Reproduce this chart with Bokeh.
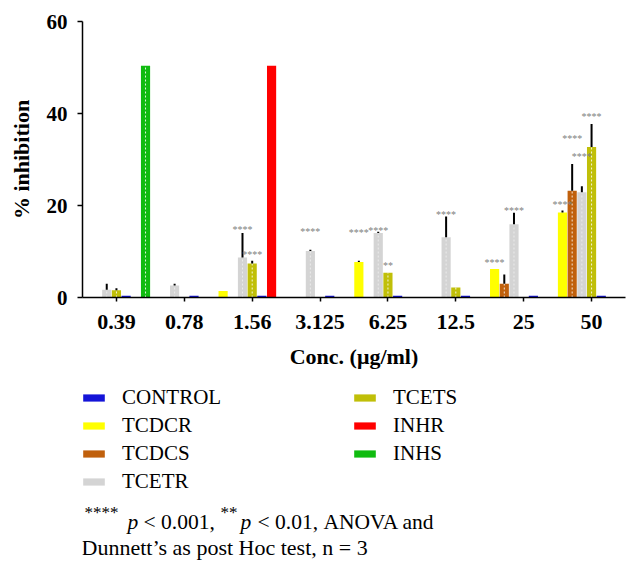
from bokeh.plotting import figure
from bokeh.models import (ColumnDataSource, FactorRange, Range1d, Legend, LegendItem,
                          Label, FixedTicker)
from bokeh.layouts import column
from bokeh.transform import dodge
from bokeh.embed import file_html
from bokeh.resources import INLINE

# ---------------- data ----------------
categories = ["0.39", "0.78", "1.56", "3.125", "6.25", "12.5", "25", "50"]

control     = [0.4, 0.4, 0.4, 0.4, 0.4, 0.4, 0.4, 0.4]
control_err = [0, 0, 0, 0, 0, 0, 0, 0]
tcdcr       = [0, 0, 1.4, 0, 7.7, 0, 6.2, 18.5]
tcdcr_err   = [0, 0, 0, 0, 0.3, 0, 0, 0.4]
tcdcs       = [0, 0, 0, 0, 0, 0, 3.0, 23.2]
tcdcs_err   = [0, 0, 0, 0, 0, 0, 2.0, 5.8]
tcetr       = [1.7, 2.6, 8.7, 10.1, 14.0, 13.1, 15.9, 22.9]
tcetr_err   = [1.3, 0.4, 5.3, 0.3, 0.3, 4.5, 2.5, 1.3]
tcets       = [1.6, 0, 7.4, 0, 5.4, 2.2, 0, 32.7]
tcets_err   = [0.4, 0, 0.6, 0, 0, 0, 0, 5.0]
inhr        = [0, 0, 50.4, 0, 0, 0, 0, 0]
inhr_err    = [0, 0, 0, 0, 0, 0, 0, 0]
inhs        = [50.4, 0, 0, 0, 0, 0, 0, 0]
inhs_err    = [0, 0, 0, 0, 0, 0, 0, 0]

# significance marks (category, series, text, height in % inhibition)
star_cats   = ["1.56", "1.56", "3.125", "6.25", "6.25", "6.25", "12.5", "25", "25", "50", "50", "50", "50"]
star_series = ["TCETR", "TCETS", "TCETR", "TCDCR", "TCETR", "TCETS", "TCETR", "TCDCR", "TCETR",
               "TCDCR", "TCDCS", "TCETR", "TCETS"]
star_text   = ["****", "****", "****", "****", "****", "**", "****", "****", "****",
               "****", "****", "****", "****"]
star_y      = [15.2, 9.7, 14.7, 14.6, 15.0, 7.5, 18.4, 8.0, 19.3, 20.6, 35.0, 31.0, 39.8]

y_ticks = [0, 20, 40, 60]

series_names  = ["CONTROL", "TCDCR", "TCDCS", "TCETR", "TCETS", "INHR", "INHS"]
series_values = [control, tcdcr, tcdcs, tcetr, tcets, inhr, inhs]
series_errors = [control_err, tcdcr_err, tcdcs_err, tcetr_err, tcets_err, inhr_err, inhs_err]
series_colors = ["#1414d8", "#ffff00", "#c0600c", "#d4d4d4", "#c0bf08", "#ff0000", "#10bb10"]
# position of each series within a group (TCETS sits on the tick)
series_slot   = [1, -3, -2, -1, 0, 2, 3]
series_dashed = [0, 0, 0.85, 0.55, 0.85, 0, 0.85]   # alpha of the white centre dashes

footnote_line1 = [("****", "sup"), ("p", "italic"), ("< 0.001,", "normal"),
                  ("**", "sup"), ("p", "italic"), ("< 0.01,", "normal"), ("ANOVA and", "normal")]
footnote_line2 = "Dunnett’s as post Hoc test, n = 3"

SLOT = 1.0 / 7.0
BAR_W = 0.135
SERIF = "Liberation Serif"
W = 639
H1 = 376
H2 = 566 - H1
FL, FR = 82, 625          # left / right edge of the plotting frame

# ---------------- main chart ----------------
p = figure(width=W, height=H1,
           x_range=FactorRange(*categories, range_padding=0, factor_padding=0),
           y_range=Range1d(0, 60),
           output_backend="svg", toolbar_location=None,
           min_border_left=FL, min_border_right=W - FR, min_border_top=21,
           min_border_bottom=H1 - 297)
p.outline_line_color = None
p.xgrid.grid_line_color = None
p.ygrid.grid_line_color = None
p.background_fill_color = "white"
p.border_fill_color = "white"

for name, vals, errs, color, slot, dash_a in zip(series_names, series_values, series_errors,
                                                 series_colors, series_slot, series_dashed):
    cats = [c for c, v in zip(categories, vals) if v > 0]
    tops = [v for v in vals if v > 0]
    src = ColumnDataSource(dict(cat=cats, top=tops, zero=[0] * len(tops)))
    xx = dodge("cat", slot * SLOT, range=p.x_range)
    p.vbar(x=xx, top="top", width=BAR_W, source=src, fill_color=color, line_color=None)
    if dash_a:
        p.segment(x0=xx, y0="zero", x1=xx, y1="top", source=src,
                  line_color="white", line_width=1, line_dash="2 2", line_alpha=dash_a)
    ecats = [c for c, v, e in zip(categories, vals, errs) if v > 0 and e > 0]
    elo = [v for v, e in zip(vals, errs) if v > 0 and e > 0]
    ehi = [v + e for v, e in zip(vals, errs) if v > 0 and e > 0]
    if ecats:
        esrc = ColumnDataSource(dict(cat=ecats, lo=elo, hi=ehi))
        p.segment(x0=xx, y0="lo", x1=xx, y1="hi", source=esrc,
                  line_color="black", line_width=2)

# significance stars
slot_of = dict(zip(series_names, series_slot))
star_off = [slot_of[s] * SLOT for s in star_series]
for off in sorted(set(star_off)):
    idx = [i for i, o in enumerate(star_off) if o == off]
    sub = ColumnDataSource(dict(cat=[star_cats[i] for i in idx], y=[star_y[i] for i in idx],
                                t=[star_text[i] for i in idx]))
    p.text(x=dodge("cat", off, range=p.x_range), y="y", text="t", source=sub,
           text_font=SERIF, text_font_size="10px", text_color="#808080",
           text_align="center", text_baseline="middle", y_offset=2)

# axes
p.yaxis.ticker = FixedTicker(ticks=y_ticks)
p.yaxis.minor_tick_line_color = None
p.yaxis.major_tick_out = 5
p.yaxis.major_tick_in = 0
p.yaxis.major_label_standoff = 10
p.yaxis.axis_label = "% inhibition"
p.yaxis.axis_label_standoff = 10
p.xaxis.axis_label = "Conc. (μg/ml)"
p.xaxis.major_tick_out = 4
p.xaxis.major_tick_in = 0
p.xaxis.major_label_standoff = 13
p.xaxis.axis_label_standoff = 12
for ax in (p.xaxis, p.yaxis):
    ax.axis_line_color = "black"
    ax.axis_line_width = 1.5
    ax.major_tick_line_color = "black"
    ax.major_tick_line_width = 1.5
    ax.major_label_text_font = SERIF
    ax.major_label_text_font_style = "bold"
    ax.major_label_text_color = "black"
    ax.axis_label_text_font = SERIF
    ax.axis_label_text_font_style = "bold"
    ax.axis_label_text_color = "black"
    ax.axis_label_text_font_size = "22px"
p.xaxis.major_label_text_font_size = "22px"
p.yaxis.major_label_text_font_size = "21px"

# ---------------- legend + footnote panel ----------------
# the column layout aligns this panel's frame with the chart frame (x = FL..FR),
# so the x range is expressed in page pixels
q = figure(width=W, height=H2, x_range=Range1d(FL, FR), y_range=Range1d(H2, 0),
           x_axis_type=None, y_axis_type=None, output_backend="svg", toolbar_location=None,
           min_border=0, min_border_left=0, min_border_right=0, min_border_top=0,
           min_border_bottom=0)
q.outline_line_color = None
q.xgrid.grid_line_color = None
q.ygrid.grid_line_color = None
q.background_fill_color = "white"
q.border_fill_color = "white"

items = []
for name, color in zip(series_names, series_colors):
    # zero-height proxy bars: they only supply the legend swatch style
    r = q.vbar(x=[FL], top=[0], bottom=[0], width=1, fill_color=color, line_color=None)
    items.append(LegendItem(label=name, renderers=[r]))
legend = Legend(items=items, location=(-2, 72), orientation="vertical", nrows=4,
                glyph_width=27, glyph_height=9, label_standoff=15,
                label_width=226, spacing=3, padding=0, margin=0,
                border_line_color=None, background_fill_alpha=0,
                label_text_font="'Liberation Serif', serif", label_text_font_size="21px",
                label_text_color="black")
q.add_layout(legend, "center")

# footnote, laid out piece by piece (superscript stars, italic p)
foot_x = [84, 127, 143, 220, 240, 257, 323]
for (t, st), x in zip(footnote_line1, foot_x):
    if st == "sup":
        q.add_layout(Label(x=x, y=136, text=t, text_font=SERIF, text_font_size="17px",
                           text_color="black", text_baseline="alphabetic"))
    else:
        q.add_layout(Label(x=x, y=145.5, text=t, text_font=SERIF, text_font_size="21.5px",
                           text_font_style=st, text_color="black", text_baseline="alphabetic"))
q.add_layout(Label(x=81, y=170.5, text=footnote_line2, text_font=SERIF, text_font_size="22px",
                   text_color="black", text_baseline="alphabetic"))

layout = column(p, q, spacing=0)
open("out.html", "w").write(file_html(layout, INLINE))
